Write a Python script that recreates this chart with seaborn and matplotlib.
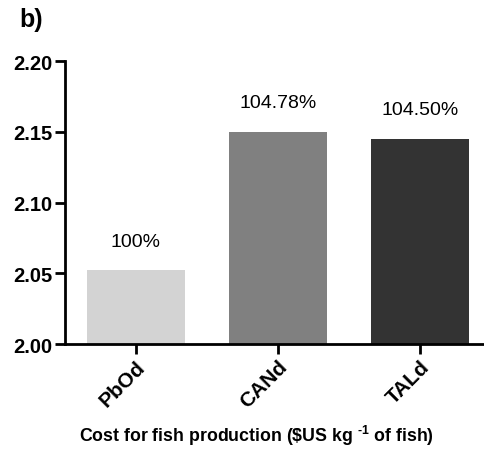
import matplotlib
matplotlib.use("Agg")
import matplotlib.pyplot as plt
import seaborn as sns
import pandas as pd

# Production cost per diet
diets = ["PbOd", "CANd", "TALd"]
cost = [2.052, 2.150, 2.145]
relative = ["100%", "104.78%", "104.50%"]
bar_colors = ["#d3d3d3", "#808080", "#333333"]

y_ticks = [2.00, 2.05, 2.10, 2.15, 2.20]

sns.set_theme(style="white")
plt.rcParams["font.family"] = ["Liberation Sans", "DejaVu Sans"]
plt.rcParams["text.color"] = "black"
plt.rcParams["xtick.color"] = "black"
plt.rcParams["ytick.color"] = "black"
plt.rcParams["axes.labelcolor"] = "black"
plt.rcParams["mathtext.fontset"] = "custom"
plt.rcParams["mathtext.rm"] = "Liberation Sans:bold"
plt.rcParams["mathtext.bf"] = "Liberation Sans:bold"

df = pd.DataFrame({"diet": diets, "cost": cost})

fig = plt.figure(figsize=(4.84, 4.52), dpi=100)
ax = fig.add_axes([0.134, 0.2367, 0.866, 0.6261])

sns.barplot(data=df, x="diet", y="cost", hue="diet", palette=bar_colors,
            width=0.69, legend=False, ax=ax, edgecolor="none")

ax.set_ylim(2.00, 2.20)
ax.set_xlim(-0.5, 2.45)
ax.set_yticks(y_ticks)
ax.set_yticklabels([f"{v:.2f}" for v in y_ticks], fontsize=14.5, fontweight="bold")
ax.set_xticks(range(len(diets)))
ax.set_xticklabels(diets, rotation=45, ha="right", rotation_mode="anchor",
                   fontsize=15, fontweight="bold")

for s in ["top", "right"]:
    ax.spines[s].set_visible(False)
for s in ["left", "bottom"]:
    ax.spines[s].set_linewidth(2)
    ax.spines[s].set_color("black")
ax.tick_params(axis="both", direction="out", length=7, width=2, color="black",
               bottom=True, left=True, pad=2)

for i, (v, lab) in enumerate(zip(cost, relative)):
    ax.annotate(lab, (i, v), xytext=(0, 15), textcoords="offset points",
                ha="center", va="bottom", fontsize=14)

ax.set_ylabel("")
ax.set_xlabel(r"Cost for fish production (\$US kg $^{\text{-1}}$ of fish)",
              fontsize=12.8, fontweight="bold")
ax.xaxis.set_label_coords(0.458, -0.28)

fig.text(0.04, 0.955, "b)", fontsize=18, fontweight="bold", ha="left", va="center")

fig.savefig("out.png", dpi=100)
